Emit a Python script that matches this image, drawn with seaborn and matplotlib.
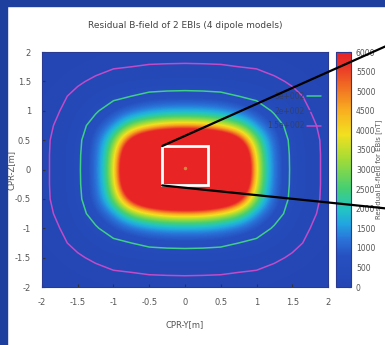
import numpy as np
import seaborn as sns
import matplotlib
matplotlib.use("Agg")
import matplotlib.pyplot as plt
from matplotlib.colors import LinearSegmentedColormap
from matplotlib.patches import Rectangle, ConnectionPatch

# grid nodes (one quadrant, x >= 0, y >= 0), field is symmetric
x_nodes = [0.0, 0.25, 0.5, 0.75, 1.0, 1.25, 1.5, 1.75, 2.0]
y_nodes = [0.0, 0.25, 0.5, 0.75, 1.0, 1.25, 1.5, 1.75, 2.0]

# residual B-field [nT], rows = y_nodes, cols = x_nodes
b_quadrant = [
    [28000, 30000, 25000, 10000, 3300, 950, 420, 205, 110],
    [27000, 27000, 20000, 9300, 3100, 930, 415, 205, 110],
    [10500, 10000, 8600, 6300, 2600, 860, 395, 200, 108],
    [4200, 4100, 3600, 2800, 1300, 680, 330, 175, 105],
    [1500, 1480, 1320, 1020, 720, 450, 265, 150, 100],
    [620, 610, 580, 500, 400, 295, 185, 125, 85],
    [300, 295, 290, 265, 240, 175, 132, 95, 72],
    [165, 163, 160, 150, 135, 110, 92, 76, 58],
    [100, 100, 98, 95, 88, 82, 72, 62, 53],
]

contour_levels = [150, 200, 500]
contour_labels = ["1.5e+002", "2e+002", "5e+002"]
contour_colors = ["#c24bc8", "#2548b6", "#3fcf86"]

cbar_ticks = list(range(0, 6001, 500))
axis_ticks = [-2, -1.5, -1, -0.5, 0, 0.5, 1, 1.5, 2]
tick_text = ["-2", "-1.5", "-1", "-0.5", "0", "0.5", "1", "1.5", "2"]

# zoom box around the sensor and its callout
box_x = [-0.32, 0.32]
box_y = [-0.27, 0.40]
callout_end = [(1.01, 0.87), (1.01, 0.395)]

# build full field by mirroring the quadrant
q = np.array(b_quadrant, dtype=float)
half = np.concatenate([q[:, ::-1], q[:, 1:]], axis=1)
field = np.concatenate([half[::-1], half[1:]], axis=0)
xs = np.concatenate([-np.array(x_nodes[::-1]), np.array(x_nodes[1:])])
ys = np.concatenate([-np.array(y_nodes[::-1]), np.array(y_nodes[1:])])

sns.set_style("ticks")
plt.rcParams["font.family"] = ["DejaVu Sans"]
plt.rcParams["xtick.direction"] = "in"
plt.rcParams["ytick.direction"] = "in"

cmap = LinearSegmentedColormap.from_list("field", [
    (0.00, "#2446b4"), (0.13, "#2650c0"), (0.20, "#2a72d8"),
    (0.27, "#22a6e0"), (0.33, "#22c4c4"), (0.42, "#45cf72"),
    (0.55, "#a8dc34"), (0.65, "#f2e020"), (0.75, "#f8b020"),
    (0.86, "#f06a22"), (0.95, "#e8302a"), (1.00, "#e82424")])

fig = plt.figure(figsize=(3.85, 3.45), dpi=100)
fig.patch.set_facecolor("white")
ax = fig.add_axes([0.109, 0.168, 0.743, 0.681])
cax = fig.add_axes([0.873, 0.168, 0.039, 0.681])

step = xs[1] - xs[0]
im = ax.imshow(field, origin="lower", cmap=cmap, vmin=0, vmax=6000,
               extent=[xs[0] - step / 2, xs[-1] + step / 2, ys[0] - step / 2, ys[-1] + step / 2],
               interpolation="bicubic", interpolation_stage="data", aspect="auto")
cs = ax.contour(xs, ys, field, levels=contour_levels, colors=contour_colors, linewidths=1.1)
ax.set_xlim(-2, 2)
ax.set_ylim(-2, 2)

# legend for contour lines
handles = [plt.Line2D([], [], color=c, lw=1.1) for c in contour_colors[::-1]]
leg = ax.legend(handles, contour_labels[::-1], loc="upper right", bbox_to_anchor=(1.0, 0.86),
                frameon=False, markerfirst=False, fontsize=5.5, handlelength=1.8,
                labelspacing=0.75, handletextpad=0.4)
for t in leg.get_texts():
    t.set_color("#34406a")

ax.add_patch(Rectangle((box_x[0], box_y[0]), box_x[1] - box_x[0], box_y[1] - box_y[0],
                       fill=False, ec="white", lw=2))
ax.plot([0], [0.03], "o", color="#d08a40", ms=1.5)
for (yc, end) in zip([box_y[1], box_y[0]], callout_end):
    con = ConnectionPatch(xyA=(box_x[0], yc), coordsA=ax.transData,
                          xyB=end, coordsB=fig.transFigure, color="black", lw=1.6)
    fig.add_artist(con)

ax.set_xticks(axis_ticks)
ax.set_xticklabels(tick_text)
ax.set_yticks(axis_ticks)
ax.set_yticklabels(tick_text)
ax.tick_params(labelsize=6, colors="#333333", length=2.5, labelcolor="#555555", pad=8)
ax.set_xlabel("CPR-Y[m]", fontsize=6, color="#555555", labelpad=9)
ax.set_ylabel("CPR-Z[m]", fontsize=6, color="#555555")
ax.yaxis.set_label_coords(-0.092, 0.5)
ax.set_title("Residual B-field of 2 EBIs (4 dipole models)", fontsize=6.5, color="#444444", pad=17)
for s in ax.spines.values():
    s.set_color("#2a3a90")
    s.set_linewidth(0.8)

cb = fig.colorbar(im, cax=cax, ticks=cbar_ticks)
cb.ax.tick_params(labelsize=5.5, labelcolor="#555555", direction="in", length=2.5,
                  left=True, right=True, colors="#333333")
cb.outline.set_edgecolor("#2a3a90")
cb.set_label("Residual B-field for EBIs [nT]", fontsize=5, color="#555555", labelpad=0)

# blue frame on the left and top of the picture
fig.add_artist(Rectangle((0, 0), 7 / 385, 1, transform=fig.transFigure, color="#1f3f9e", zorder=10))
fig.add_artist(Rectangle((0, 1 - 6 / 345), 1, 6 / 345, transform=fig.transFigure, color="#1f3f9e", zorder=10))

fig.savefig("out.png", dpi=100)
